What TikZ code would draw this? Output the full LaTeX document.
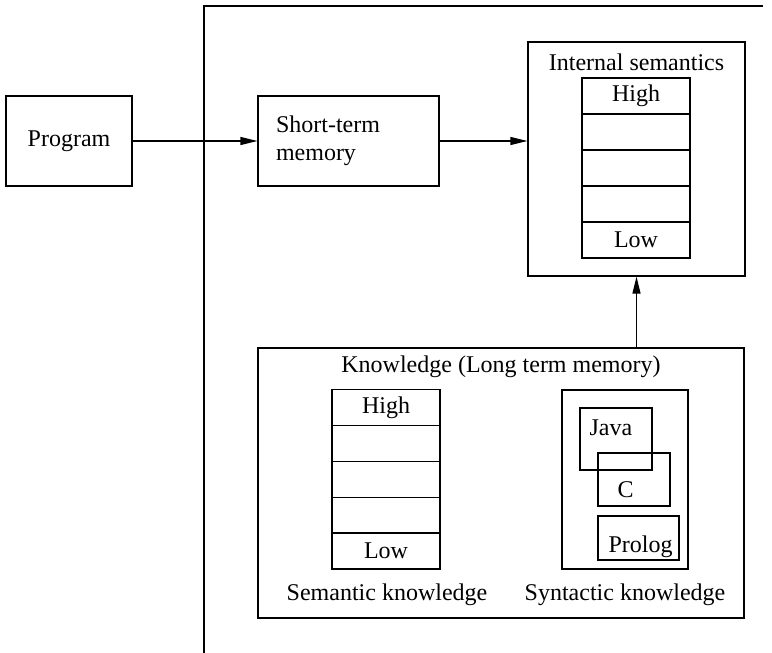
\documentclass[tikz,border=0pt]{standalone}
\usepackage{fontspec}
\setmainfont{Liberation Serif}
\usetikzlibrary{arrows.meta}
\tikzset{
  box/.style={draw, inner sep=0pt, font=\fontsize{12}{14}\selectfont},
  cell/.style={box, minimum width=54pt, minimum height=18pt},
  lbl/.style={inner sep=0pt, font=\fontsize{12}{14}\selectfont}
}
\begin{document}
\begin{tikzpicture}[x=0.5pt, y=-0.5pt, line width=0.6pt, >={Triangle[length=8.5pt,width=4pt]}]
  \useasboundingbox (0,0) rectangle (772,653);
  % open frame
  \draw (763,6) -- (204,6) -- (204,653);
  % outer boxes
  \node[box, minimum width=63pt, minimum height=45pt] (prog) at (69,141) {Program};
  \node[box, minimum width=90.5pt, minimum height=45pt, text width=72.5pt, align=left, inner xsep=9pt] (stm) at (348.5,141) {Short-term\\memory};
  \node[box, minimum width=108.5pt, minimum height=117pt] (intsem) at (636.5,159) {};
  \node[lbl] (intsemtitle) at (636.5,62) {Internal semantics};
  \node[box, minimum width=243pt, minimum height=135pt] (know) at (501,483) {};
  \node[lbl] (knowtitle) at (501,367) {Knowledge (Long term memory)};
  % level stacks
  \foreach \i/\txt in {1/High, 2/, 3/, 4/, 5/Low} {
    \node[cell] (is\i) at (636,{60+36*\i}) {\txt};
    \node[cell] (sk\i) at (386,{372+35.8*\i}) {\txt};
  }
  \node[lbl] (semlbl) at (387,595) {Semantic knowledge};
  % syntactic knowledge
  \node[box, minimum width=63pt, minimum height=89.5pt] (syn) at (625,479.5) {};
  \node[box, minimum width=36pt, minimum height=31pt] (java) at (616,439) {};
  \node[box, minimum width=36pt, minimum height=26.5pt] (clang) at (634,479.5) {};
  \node[box, minimum width=40.5pt, minimum height=22pt] (prolog) at (638.5,538) {};
  \node[lbl, anchor=base west] (javatxt) at (589,435) {Java};
  \node[lbl, anchor=base west] (ctxt) at (617,497) {C};
  \node[lbl, anchor=base west] (prologtxt) at (608,552) {Prolog};
  \node[lbl] (synlbl) at (625,595) {Syntactic knowledge};
  % connectors
  \draw[->] (prog.east) -- (stm.west);
  \draw[->] (stm.east) -- (stm.east -| intsem.west);
  \draw[->] (intsem.south |- know.north) -- (intsem.south);
\end{tikzpicture}
\end{document}
